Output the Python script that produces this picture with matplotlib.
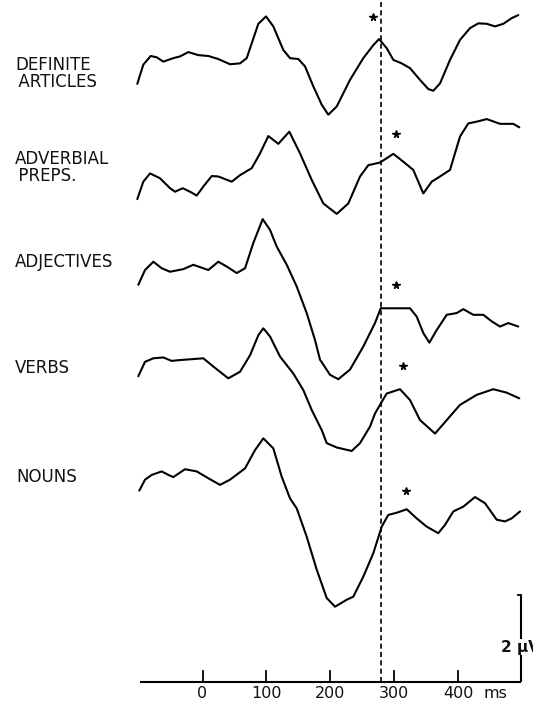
import matplotlib
matplotlib.use("Agg")
import matplotlib.pyplot as plt

# ---------------- data (time in ms, amplitude in microvolts) ----------------
t_articles = [-102, -92.6, -81.0, -71.6, -61.3, -45.7, -35.2, -22.2, -6.6, 9.1, 24.7, 43.0, 58.6, 69.1,
              76.9, 87.3, 99.3, 110.7, 126.3, 136.8, 149.8, 160.3, 173.3, 186.4, 196.7, 209.9, 230.6,
              251.4, 267.1, 276.0, 288.0, 298.4, 311.5, 324.5, 340.1, 353.1, 360.9, 371.4, 387.0,
              402.7, 418.3, 431.3, 444.4, 457.4, 470.4, 483.5, 493.8]
v_articles = [-0.55, -0.11, 0.09, 0.06, -0.04, 0.04, 0.08, 0.18, 0.11, 0.09, 0.02, -0.10, -0.08, 0.04,
              0.38, 0.83, 1.00, 0.77, 0.23, 0.04, 0.02, -0.15, -0.61, -1.03, -1.26, -1.07, -0.46,
              0.04, 0.34, 0.48, 0.27, 0.00, -0.08, -0.19, -0.46, -0.67, -0.71, -0.54, 0.00,
              0.46, 0.73, 0.84, 0.83, 0.77, 0.83, 0.96, 1.03]

t_preps = [-102, -92.6, -82.1, -66.5, -50.8, -43.0, -31.0, -19.5, -9.1, 1.3, 14.4, 24.7, 45.7, 58.6,
           76.9, 89.9, 102.9, 118.5, 135.7, 152.5, 170.8, 188.9, 209.9, 228.0, 246.3, 259.3, 277.6,
           298.4, 314.0, 329.6, 345.3, 358.4, 371.4, 387.0, 402.7, 415.6, 428.8, 444.4, 465.2,
           486.0, 495.4]
v_preps = [-0.44, -0.04, 0.15, 0.04, -0.19, -0.27, -0.19, -0.27, -0.36, -0.15, 0.09, 0.08, -0.04, 0.11,
           0.27, 0.61, 1.01, 0.83, 1.11, 0.61, 0.00, -0.54, -0.78, -0.54, 0.08, 0.34, 0.40,
           0.60, 0.42, 0.23, -0.31, -0.04, 0.08, 0.23, 1.00, 1.30, 1.34, 1.40, 1.29,
           1.29, 1.21]

t_adjectives = [-100.4, -89.9, -76.9, -63.8, -50.8, -30.0, -14.4, 9.1, 24.7, 37.8, 53.5, 66.5, 79.4,
                94.1, 105.6, 116.0, 131.7, 147.3, 162.9, 175.9, 183.7, 199.4, 212.4, 230.6, 251.4,
                269.7, 278.7, 293.2, 324.5, 334.9, 345.3, 354.7, 366.2, 381.9, 397.5, 407.8, 423.5,
                439.1, 452.2, 465.2, 478.2, 493.8]
v_adjectives = [-0.39, -0.05, 0.14, -0.01, -0.09, -0.03, 0.07, -0.05, 0.14, 0.03, -0.12, -0.01, 0.57,
                1.12, 0.87, 0.49, 0.07, -0.43, -1.04, -1.66, -2.11, -2.46, -2.56, -2.34, -1.81,
                -1.27, -0.93, -0.93, -0.93, -1.12, -1.50, -1.72, -1.43, -1.08, -1.04, -0.95, -1.08,
                -1.08, -1.23, -1.35, -1.27, -1.35]

t_verbs = [-100.4, -89.9, -76.9, -61.3, -48.2, -35.2, -16.9, 1.3, 16.9, 40.3, 58.6, 74.3, 87.3, 95.1,
           105.6, 121.2, 142.0, 157.6, 170.8, 186.4, 194.2, 209.9, 233.3, 246.3, 261.9, 269.7,
           278.7, 288.0, 308.8, 324.5, 340.1, 363.6, 381.9, 402.7, 428.8, 454.7, 475.7, 495.4]
v_verbs = [-0.37, -0.04, 0.04, 0.06, -0.02, 0.00, 0.02, 0.04, -0.15, -0.42, -0.27, 0.11, 0.57, 0.73,
           0.54, 0.08, -0.31, -0.69, -1.15, -1.61, -1.91, -2.01, -2.09, -1.91, -1.53, -1.23,
           -1.00, -0.77, -0.67, -0.92, -1.38, -1.69, -1.38, -1.03, -0.80, -0.67, -0.75, -0.88]

t_nouns = [-98.8, -89.9, -79.4, -63.8, -53.5, -45.7, -27.4, -9.1, 11.7, 27.4, 43.0, 66.5, 82.1, 95.1,
           110.7, 123.8, 136.8, 147.3, 162.9, 178.6, 194.2, 207.2, 225.5, 235.8, 251.4, 267.1,
           280.2, 290.5, 303.7, 319.3, 334.9, 350.6, 368.7, 379.2, 392.2, 407.8, 426.1, 441.7,
           460.0, 473.0, 483.5, 496.5]
v_nouns = [-0.36, -0.11, 0.00, 0.08, 0.00, -0.05, 0.13, 0.08, -0.10, -0.23, -0.11, 0.15, 0.57, 0.84,
           0.61, -0.04, -0.54, -0.77, -1.42, -2.18, -2.83, -3.03, -2.87, -2.80, -2.34, -1.80,
           -1.19, -0.92, -0.87, -0.79, -1.00, -1.19, -1.34, -1.15, -0.84, -0.73, -0.51, -0.65,
           -1.03, -1.07, -1.00, -0.84]

categories = ["DEFINITE\n\u2009ARTICLES", "ADVERBIAL\n\u2009PREPS.", "ADJECTIVES", "VERBS", "NOUNS"]
star_ms = [266.1, 302.1, 302.1, 313.1, 317.7]      # asterisk latencies
star_uv = [0.98, 1.06, -0.40, -0.14, -0.37]        # asterisk heights relative to trace
tick_ms = [0, 100, 200, 300, 400]
tick_labels = ["0", "100", "200", "300", "400"]
marker_ms = 278.6
scale_uv = 2

# ---------------- layout ----------------
times = [t_articles, t_preps, t_adjectives, t_verbs, t_nouns]
volts = [v_articles, v_preps, v_adjectives, v_verbs, v_nouns]
offsets = [14.29, 11.53, 9.51, 7.39, 4.75]
label_px = [(15, 73.5), (15, 167.5), (15, 262), (15, 368), (16, 477)]

W, H = 533, 702
fig = plt.figure(figsize=(W / 100, H / 100), dpi=100)
ax = fig.add_axes([0, 0, 1, 1])
ax.set_xlim(-316.7, 516.8)
ax.set_ylim(-0.471, 15.667)
ax.axis("off")

for t, v, off in zip(times, volts, offsets):
    ax.plot(t, [vv + off for vv in v], color="black", lw=1.5, solid_joinstyle="round",
            solid_capstyle="round")

for sx, sy, off in zip(star_ms, star_uv, offsets):
    ax.plot([sx], [sy + off], marker="*", color="black", markersize=5.5, linestyle="none")

for txt, (px, py) in zip(categories, label_px):
    fig.text(px / W, 1 - py / H, txt, fontsize=12, va="center", ha="left", linespacing=0.96,
             family="DejaVu Sans", color="#111111")

# time axis
ax.plot([-97.7, 498], [0, 0], color="black", lw=1.5, solid_capstyle="butt")
for tm, lab in zip(tick_ms, tick_labels):
    ax.plot([tm, tm], [0, 0.24], color="black", lw=1.3)
    ax.text(tm, -0.27, lab, ha="center", va="center", fontsize=11.5, color="#111111")
ax.text(457.4, -0.27, "ms", ha="center", va="center", fontsize=11.5, color="#111111")

# dashed marker line
ax.plot([marker_ms, marker_ms], [0, 15.667], color="black", lw=1.2, linestyle=(0, (3, 2)))

# scale bar
ax.plot([498, 498], [0, scale_uv], color="black", lw=1.5, solid_capstyle="butt")
ax.plot([493, 498], [scale_uv, scale_uv], color="black", lw=1.3)
ax.text(466, 0.79, "2 \u00b5V", ha="left", va="center", fontsize=11, fontweight="bold",
        color="#111111", bbox=dict(facecolor="white", edgecolor="none", pad=0.5))

fig.savefig("out.png", dpi=100)
